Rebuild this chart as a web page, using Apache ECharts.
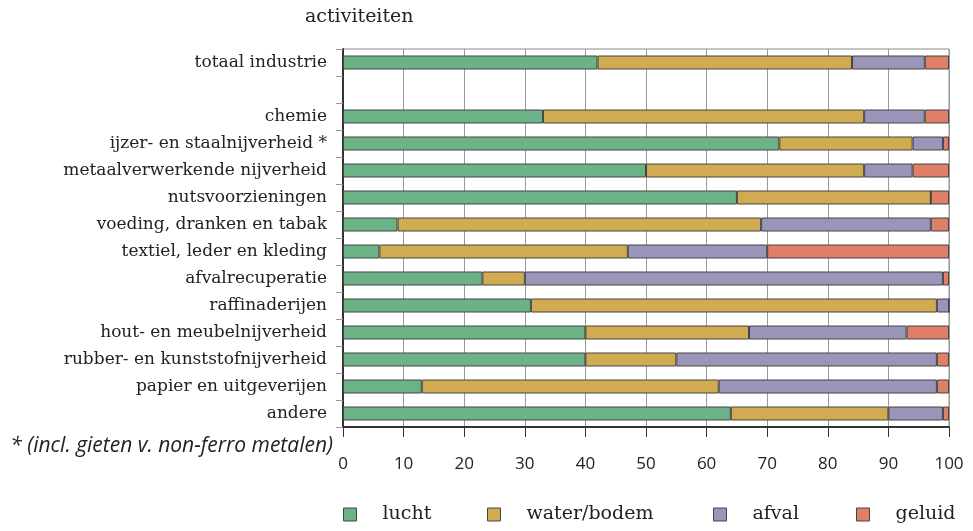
<!DOCTYPE html>
<html lang="nl">
<head>
    <meta charset="UTF-8">
    <title>activiteiten</title>
    <script src="https://cdn.jsdelivr.net/npm/echarts@6/dist/echarts.min.js"></script>
    <style>
        html, body { margin: 0; padding: 0; background: #fff; }
        #main { width: 973px; height: 531px; }
    </style>
</head>
<body>
<div id="main"></div>
<script>
    // categorieen (lege rij tussen totaal en de sectoren)
    let categories = ['totaal industrie', '', 'chemie', 'ijzer- en staalnijverheid *', 'metaalverwerkende nijverheid',
        'nutsvoorzieningen', 'voeding, dranken en tabak', 'textiel, leder en kleding', 'afvalrecuperatie',
        'raffinaderijen', 'hout- en meubelnijverheid', 'rubber- en kunststofnijverheid', 'papier en uitgeverijen', 'andere'];

    let lucht      = [42, '-', 33, 72, 50, 65,  9,  6, 23, 31, 40, 40, 13, 64];
    let waterBodem = [42, '-', 53, 22, 36, 32, 60, 41,  7, 67, 27, 15, 49, 26];
    let afval      = [12, '-', 10,  5,  8,  0, 28, 23, 69,  2, 26, 43, 36,  9];
    let geluid     = [ 4, '-',  4,  1,  6,  3,  3, 30,  1,  0,  7,  2,  2,  1];

    let xTicks = [0, 10, 20, 30, 40, 50, 60, 70, 80, 90, 100];

    let names = ['lucht', 'water/bodem', 'afval', 'geluid'];
    let colors = ['#6bb386', '#d1ab51', '#9b95ba', '#e07f68'];
    let legendLeft = [343, 487, 713, 856];

    let chart = echarts.init(document.getElementById('main'));

    function bar(name, data, color) {
        return {
            name: name,
            type: 'bar',
            stack: 'totaal',
            data: data,
            barWidth: 14,
            itemStyle: {color: color, borderColor: '#444', borderWidth: 1},
            emphasis: {disabled: true}
        };
    }

    let option = {
        animation: false,
        title: {
            text: 'activiteiten',
            left: 300,
            top: 3,
            textStyle: {fontFamily: 'DejaVu Serif', fontSize: 19, fontWeight: 'normal', color: '#222'}
        },
        legend: names.map((n, i) => ({
            data: [n],
            left: legendLeft[i],
            top: 505,
            padding: 0,
            icon: 'rect',
            itemWidth: 13,
            itemHeight: 13,
            itemGap: 0,
            itemStyle: {borderColor: '#444', borderWidth: 1},
            textStyle: {fontFamily: 'DejaVu Serif', fontSize: 19, color: '#222', padding: [0, 0, 0, 21]},
            selectedMode: false
        })),
        grid: {
            left: 343, right: 24, top: 49, bottom: 104,
            show: true, borderColor: '#888', borderWidth: 1
        },
        xAxis: {
            type: 'value',
            min: 0, max: 100, interval: 10,
            axisLine: {show: true, lineStyle: {color: '#333', width: 2}},
            axisTick: {show: true, length: 10, lineStyle: {color: '#333'}},
            axisLabel: {fontFamily: 'Open Sans', fontSize: 17, color: '#222', margin: 29,
                formatter: v => xTicks.indexOf(v) >= 0 ? String(v) : ''},
            splitLine: {show: true, lineStyle: {color: '#999', width: 1}}
        },
        yAxis: {
            type: 'category',
            inverse: true,
            data: categories,
            axisLine: {show: true, lineStyle: {color: '#333', width: 2}},
            axisTick: {show: true, length: 7, lineStyle: {color: '#999'}},
            axisLabel: {fontFamily: 'DejaVu Serif', fontSize: 17, color: '#222', margin: 16}
        },
        graphic: [{
            type: 'text',
            right: 640,
            top: 436,
            style: {
                text: '* (incl. gieten v. non-ferro metalen)',
                font: 'italic 21px "Open Sans"',
                fill: '#222'
            }
        }],
        series: [
            bar(names[0], lucht, colors[0]),
            bar(names[1], waterBodem, colors[1]),
            bar(names[2], afval, colors[2]),
            bar(names[3], geluid, colors[3])
        ]
    };

    chart.setOption(option);
</script>
</body>
</html>
